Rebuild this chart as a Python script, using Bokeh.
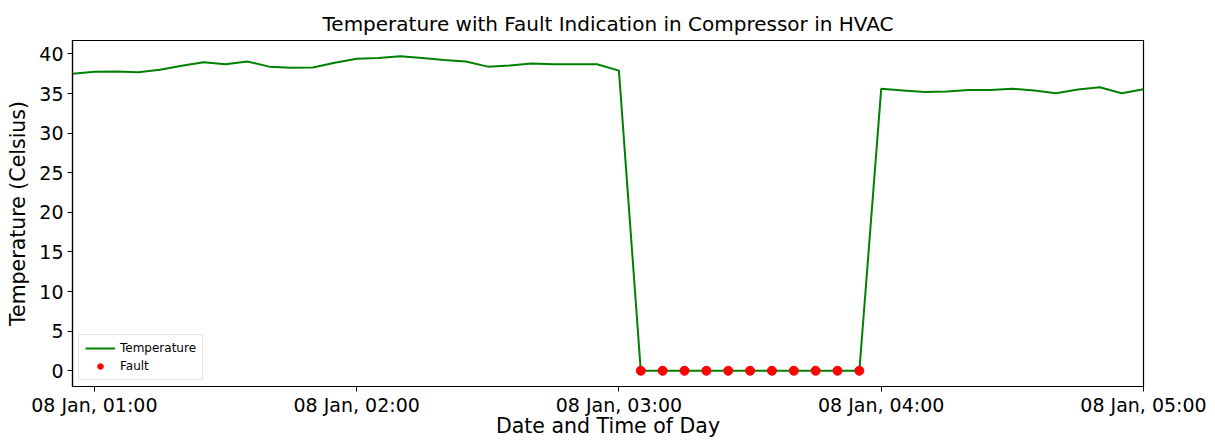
from datetime import datetime, timedelta
from bokeh.plotting import figure
from bokeh.models import (FixedTicker, DatetimeTickFormatter, Range1d, Legend, LegendItem,
                          ColumnDataSource)
from bokeh.embed import file_html
from bokeh.resources import INLINE

start = datetime(2024, 1, 8, 0, 55)
times = [start + timedelta(minutes=5 * i) for i in range(50)]

temperature = [
    37.5, 37.75, 37.8, 37.7, 38.0, 38.5, 38.95, 38.7, 39.05, 38.4,
    38.25, 38.3, 38.9, 39.4, 39.5, 39.7, 39.5, 39.25, 39.05, 38.4,
    38.55, 38.8, 38.7, 38.7, 38.7, 37.9,
    0, 0, 0, 0, 0, 0, 0, 0, 0, 0, 0,
    35.6, 35.4, 35.2, 35.25, 35.45, 35.45, 35.6, 35.4, 35.05, 35.5,
    35.8, 35.05, 35.55,
]
fault = [v == 0 for v in temperature]
fault_times = [t for t, f in zip(times, fault) if f]
fault_values = [v for v, f in zip(temperature, fault) if f]

tick_times = [datetime(2024, 1, 8, h, 0) for h in range(1, 6)]
y_ticks = [0, 5, 10, 15, 20, 25, 30, 35, 40]

FONT = "DejaVu Sans"

p = figure(width=1215, height=440, x_axis_type="datetime",
           output_backend="svg", toolbar_location=None,
           min_border_left=72, min_border_right=72, min_border_top=40, min_border_bottom=53,
           x_range=Range1d(times[0], times[-1]), y_range=Range1d(-1.99, 41.7))

p.title.text = "Temperature with Fault Indication in Compressor in HVAC"
p.title.align = "center"
p.title.text_font = FONT
p.title.text_font_size = "20px"
p.title.text_font_style = "normal"
p.title.text_color = "black"
p.title.standoff = 10

src = ColumnDataSource(dict(t=times, v=temperature))
fsrc = ColumnDataSource(dict(t=fault_times, v=fault_values))
line = p.line("t", "v", source=src, line_color="#008000", line_width=2)
dots = p.scatter("t", "v", source=fsrc, size=9, fill_color="#ff0000", line_color="#ff0000")

p.xgrid.visible = False
p.ygrid.visible = False
p.outline_line_color = "black"
p.outline_line_width = 1.2

ms = [(t - datetime(1970, 1, 1)).total_seconds() * 1000 for t in tick_times]
p.xaxis.ticker = FixedTicker(ticks=ms)
fmt = "%d %b, %H:%M"
p.xaxis.formatter = DatetimeTickFormatter(minutes=fmt, hours=fmt, days=fmt, hourmin=fmt,
                                          minsec=fmt, seconds=fmt, months=fmt, years=fmt)
p.yaxis.ticker = FixedTicker(ticks=y_ticks)

for ax in (p.xaxis[0], p.yaxis[0]):
    ax.major_label_text_font = FONT
    ax.major_label_text_font_size = "19px"
    ax.major_label_text_color = "black"
    ax.axis_label_text_font = FONT
    ax.axis_label_text_font_size = "20.5px"
    ax.axis_label_text_font_style = "normal"
    ax.axis_label_text_color = "black"
    ax.minor_tick_line_color = None
    ax.major_tick_out = 5
    ax.major_tick_in = 0
    ax.major_tick_line_color = "black"
    ax.axis_line_color = "black"
    ax.axis_line_width = 1.2

p.xaxis.axis_label = "Date and Time of Day"
p.yaxis.axis_label = "Temperature (Celsius)"
p.xaxis.major_label_standoff = 2
p.xaxis.axis_label_standoff = -5
p.yaxis.major_label_standoff = 4
p.yaxis.axis_label_standoff = 6

legend = Legend(items=[LegendItem(label="Temperature", renderers=[line]),
                       LegendItem(label="Fault", renderers=[dots])],
                location="bottom_left")
legend.label_text_font = FONT
legend.label_text_font_size = "12px"
legend.label_text_color = "black"
legend.glyph_height = 14
legend.glyph_width = 30
legend.label_height = 14
legend.spacing = 4
legend.padding = 6
legend.margin = 6
legend.border_line_color = "#cccccc"
legend.border_line_width = 1
legend.background_fill_alpha = 0.8
p.add_layout(legend)

open("out.html", "w").write(file_html(p, INLINE))
